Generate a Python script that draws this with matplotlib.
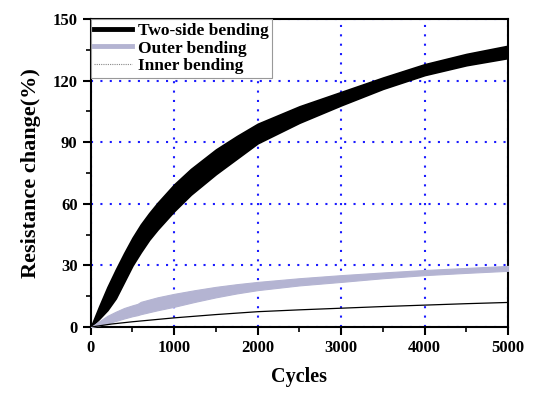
import numpy as np
import matplotlib.pyplot as plt
from matplotlib.lines import Line2D
from matplotlib.ticker import MultipleLocator

# two-side bending: envelope of the oscillating signal (upper / lower)
two_x = [0, 100, 200, 300, 400, 500, 600, 700, 800, 1000, 1200, 1500, 1750, 2000,
         2500, 3000, 3500, 4000, 4500, 5000]
two_hi = [0, 10, 19.5, 28, 36, 43.5, 50, 55.5, 60.5, 69.5, 77, 86.5, 93, 99,
          107.5, 114.5, 121.5, 128, 133, 137]
two_lo = [0, 4, 8.3, 14, 22, 30, 36.5, 42.5, 47.5, 56.5, 64.5, 74.5, 82, 89.5,
          99.5, 108, 116, 122.7, 127.5, 131]

# outer bending envelope
out_x = [0, 100, 200, 300, 400, 500, 560, 600, 800, 1000, 1250, 1500, 1750, 2000,
         2500, 3000, 3500, 4000, 4500, 5000]
out_hi = [0, 2.8, 5.5, 7.5, 9.3, 10.6, 11.3, 12.3, 14.5, 16.2, 18, 19.6, 20.9, 22,
          23.8, 25.3, 26.6, 27.8, 28.8, 29.8]
out_lo = [0, 0.8, 1.8, 3, 4.2, 5.3, 5.8, 6.3, 8.2, 9.9, 12.3, 14.5, 16.4, 18,
          20.3, 22, 23.8, 25.3, 26.4, 27.4]

# inner bending
inn_x = [0, 250, 500, 1000, 1500, 2000, 2500, 3000, 3500, 4000, 4500, 5000]
inn_y = [0, 1.5, 2.6, 4.5, 6.1, 7.5, 8.4, 9.2, 10.0, 10.7, 11.4, 12.0]

plt.rcParams['font.family'] = ['Liberation Serif', 'DejaVu Serif']
plt.rcParams['font.weight'] = 'bold'

fig = plt.figure(figsize=(5.5, 3.96), dpi=100)
ax = fig.add_axes([0.165, 0.174, 0.759, 0.778])

ax.fill_between(two_x, two_lo, two_hi, color='black', lw=1.2, edgecolor='black', zorder=3)
ax.fill_between(out_x, out_lo, out_hi, color='#b4b4d2', lw=0.8, edgecolor='#b4b4d2', zorder=3)
ax.plot(inn_x, inn_y, color='black', lw=0.9, zorder=4)

ax.set_xlim(0, 5000)
ax.set_ylim(0, 150)
ax.xaxis.set_major_locator(MultipleLocator(1000))
ax.xaxis.set_minor_locator(MultipleLocator(500))
ax.yaxis.set_major_locator(MultipleLocator(30))
ax.yaxis.set_minor_locator(MultipleLocator(15))
ax.tick_params(which='major', direction='out', length=6, width=1.5, labelsize=12)
ax.tick_params(which='minor', direction='out', length=3.5, width=1.2)
for s in ax.spines.values():
    s.set_linewidth(1.5)
ax.grid(True, which='major', color='#1a1aff', ls=(0, (1, 3.5)), lw=1.5, zorder=1)
ax.set_axisbelow(True)

ax.set_xlabel('Cycles', fontsize=14.5, fontweight='bold', labelpad=8)
ax.set_ylabel('Resistance change(%)', fontsize=16, fontweight='bold', labelpad=8)

handles = [
    Line2D([], [], color='black', lw=3.5),
    Line2D([], [], color='#b4b4d2', lw=3.5),
    Line2D([], [], color='#888888', lw=0.8, ls=(0, (1, 1))),
]
leg = ax.legend(handles, ['Two-side bending', 'Outer bending', 'Inner bending'],
                loc='upper left', bbox_to_anchor=(0.0, 1.0), fontsize=12.5,
                frameon=True, fancybox=False, borderpad=0.2, labelspacing=0.1,
                handlelength=2.2, handletextpad=0.3, borderaxespad=0.0)
leg.get_frame().set_edgecolor('#999999')
leg.get_frame().set_linewidth(0.8)
leg.get_frame().set_alpha(1)

fig.savefig('out.png', dpi=100)
